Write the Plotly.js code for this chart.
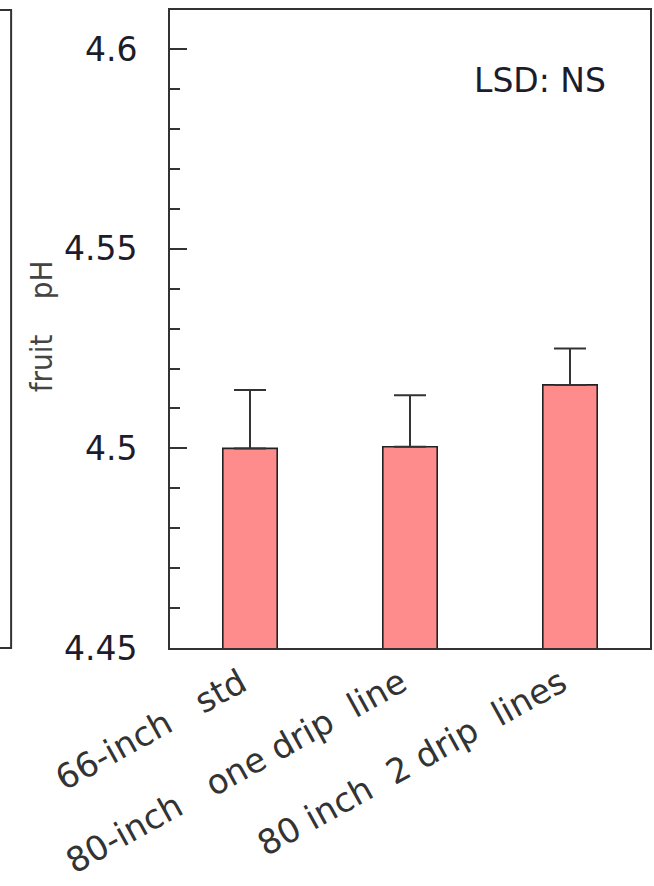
<!DOCTYPE html>
<html>
<head>
<meta charset="utf-8">
<script src="https://cdn.plot.ly/plotly-3.0.1.min.js"></script>
<style>html,body{margin:0;padding:0;background:#fff;}#chart{width:654px;height:886px;}</style>
</head>
<body>
<div id="chart"></div>
<script>
var categories = ["66-inch\u00a0\u00a0\u00a0std", "80-inch\u00a0\u00a0\u00a0one\u00a0drip\u00a0\u00a0line", "80\u00a0inch\u00a0\u00a02\u00a0drip\u00a0\u00a0lines"];
var phValues = [4.5, 4.5004, 4.5159];
var phErrors = [0.0146, 0.0129, 0.0091];
var yTickVals = [4.45, 4.5, 4.55, 4.6];
var yTickText = ["4.45", "4.5", "4.55", "4.6"];

var trace = {
  type: 'bar',
  x: categories,
  y: phValues,
  base: 0,
  width: 0.34,
  marker: {color: '#FF8C8C', line: {color: '#222', width: 1.6}},
  error_y: {type: 'data', symmetric: false, array: phErrors, arrayminus: phErrors.map(function(){return 0;}), color: '#333', thickness: 2, width: 16},
  hoverinfo: 'none'
};

var layout = {
  width: 654, height: 886,
  margin: {l: 170, r: 4, t: 10, b: 238},
  paper_bgcolor: '#fff', plot_bgcolor: '#fff',
  showlegend: false,
  xaxis: {
    type: 'category', range: [-0.5, 2.5],
    showline: true, mirror: true, linecolor: '#333', linewidth: 2,
    ticks: '', showgrid: false, zeroline: false,
    tickangle: -29, automargin: false,
    tickfont: {family: 'DejaVu Sans', size: 34, color: '#333'},
    ticklabelstandoff: 0,
    ticklabelshift: -9
  },
  yaxis: {
    range: [4.45, 4.6098], fixedrange: true,
    showline: true, mirror: true, linecolor: '#333', linewidth: 2,
    tickvals: yTickVals, ticktext: yTickText,
    ticks: 'inside', ticklen: 17, tickwidth: 2, tickcolor: '#333',
    minor: {dtick: 0.01, ticks: 'inside', ticklen: 10, tickwidth: 2, tickcolor: '#333'},
    showgrid: false, zeroline: false, automargin: false,
    tickfont: {family: 'DejaVu Sans', size: 33, color: '#1c1c2a'},
    ticklabelstandoff: 24
  },
  annotations: [
    {text: 'LSD: NS', xref: 'paper', yref: 'paper', x: 0.912, y: 0.89, xanchor: 'right', yanchor: 'middle', showarrow: false,
     font: {family: 'DejaVu Sans', size: 33, color: '#1c1c2a'}},
    {text: 'fruit\u00a0\u00a0\u00a0\u00a0pH', xref: 'paper', yref: 'paper', x: -0.27, y: 0.505, xanchor: 'center', yanchor: 'middle', textangle: -90, showarrow: false,
     font: {family: 'DejaVu Sans Condensed', size: 31, color: '#444'}}
  ],
  shapes: [
    {type: 'rect', xref: 'paper', yref: 'paper', x0: -0.5, x1: -0.331, y0: 0, y1: 1, line: {color: '#333', width: 2}, fillcolor: 'rgba(0,0,0,0)'}
  ]
};

Plotly.newPlot('chart', [trace], layout, {displayModeBar: false, staticPlot: true});
</script>
</body>
</html>
